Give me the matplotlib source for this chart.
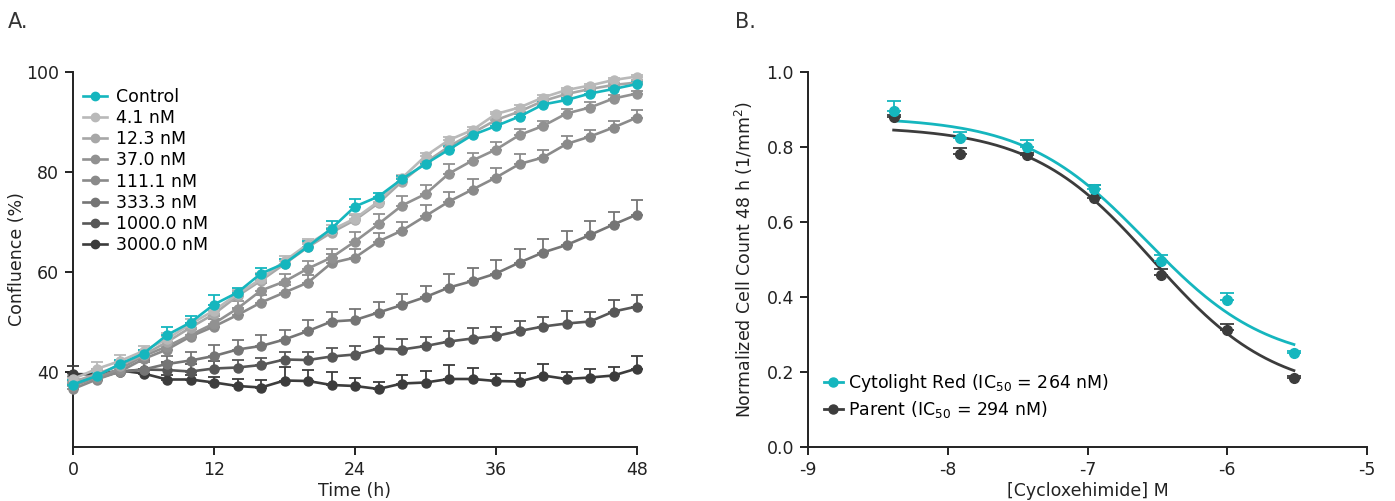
import numpy as np
import matplotlib
matplotlib.use('Agg')
import matplotlib.pyplot as plt

plt.rcParams['font.family'] = ['DejaVu Sans']
plt.rcParams['mathtext.fontset'] = 'dejavusans'
plt.rcParams['axes.unicode_minus'] = False

# ---- panel A: confluence over time ----
time_h = np.arange(0, 49, 2)

labels_a = ['Control', '4.1 nM', '12.3 nM', '37.0 nM', '111.1 nM',
            '333.3 nM', '1000.0 nM', '3000.0 nM']
colors_a = ['#15b6be', '#b9b9b9', '#a7a7a7', '#919191', '#8a8a8a',
            '#757575', '#575757', '#3c3c3c']

control = [37.5, 39.2, 41.6, 43.7, 47.4, 49.9, 53.5, 55.9, 59.7, 61.7, 65.1, 68.7,
           73.1, 75.1, 78.6, 81.6, 84.5, 87.4, 89.2, 91.1, 93.5, 94.4, 95.7, 96.6, 97.6]
nm_4_1 = [38.6, 40.6, 42.2, 44.2, 46.6, 49.6, 52.3, 55.6, 58.6, 62.2, 65.6, 68.4,
          70.7, 74.1, 78.8, 83.2, 86.4, 88.4, 91.6, 92.9, 94.9, 96.4, 97.3, 98.4, 99.1]
nm_12_3 = [38.0, 39.6, 41.3, 43.4, 46.0, 48.9, 51.6, 55.2, 58.3, 61.6, 65.0, 67.9,
           70.4, 73.8, 78.1, 81.9, 85.1, 87.8, 90.4, 92.1, 94.2, 95.6, 96.6, 97.4, 97.9]
nm_37 = [37.2, 38.9, 40.6, 43.2, 45.1, 47.4, 49.7, 52.7, 56.3, 58.1, 60.7, 62.9,
         66.1, 69.6, 73.3, 75.6, 79.7, 82.3, 84.5, 87.4, 89.2, 91.7, 92.9, 94.7, 95.7]
nm_111 = [36.6, 38.5, 40.1, 42.6, 44.5, 47.1, 49.1, 51.4, 53.9, 55.9, 57.9, 61.8,
          62.9, 66.1, 68.3, 71.2, 74.1, 76.5, 78.9, 81.6, 82.9, 85.6, 87.1, 88.9, 90.9]
nm_333 = [38.0, 39.0, 40.0, 40.5, 41.6, 42.3, 43.2, 44.5, 45.2, 46.5, 48.2, 50.1,
          50.4, 51.9, 53.4, 55.0, 56.9, 58.2, 59.7, 61.9, 63.9, 65.4, 67.4, 69.5, 71.5]
nm_1000 = [38.3, 38.7, 40.1, 40.5, 40.4, 40.1, 40.7, 40.9, 41.4, 42.5, 42.4, 43.1,
           43.5, 44.7, 44.5, 45.2, 46.1, 46.7, 47.2, 48.2, 49.1, 49.7, 50.1, 52.1, 53.1]
nm_3000 = [39.6, 39.5, 40.3, 39.7, 38.5, 38.5, 37.9, 37.2, 36.9, 38.3, 38.2, 37.4,
           37.2, 36.6, 37.7, 37.9, 38.6, 38.6, 38.2, 38.1, 39.3, 38.6, 38.9, 39.3, 40.7]

err_control = [1.0, 0.8, 0.8, 0.8, 1.7, 1.3, 2.0, 1.0, 1.2, 1.0, 1.2, 1.5,
               1.5, 0.8, 0.7, 0.6, 0.8, 0.6, 0.6, 0.6, 0.5, 0.4, 0.4, 0.4, 0.4]
err_4_1 = [0.8, 1.5, 1.2, 1.0, 1.2, 1.0, 1.2, 1.0, 1.2, 1.0, 1.0, 1.0,
           1.0, 0.8, 0.7, 0.6, 0.6, 0.6, 0.5, 0.5, 0.4, 0.4, 0.4, 0.4, 0.4]
err_12_3 = [0.8, 1.0, 1.0, 1.0, 1.2, 1.0, 1.2, 1.0, 1.2, 1.0, 1.0, 1.0,
            1.0, 0.8, 0.7, 0.6, 0.6, 0.6, 0.5, 0.5, 0.4, 0.4, 0.4, 0.4, 0.4]
err_37 = [1.0, 1.0, 1.0, 1.2, 1.5, 1.5, 1.5, 1.5, 1.5, 1.6, 1.6, 1.8,
          2.0, 2.0, 2.0, 1.8, 2.0, 1.5, 1.5, 1.3, 1.0, 1.0, 1.1, 0.7, 0.5]
err_111 = [1.0, 1.0, 1.0, 1.2, 1.5, 1.5, 1.5, 1.5, 1.5, 1.6, 1.6, 1.8,
           1.8, 1.8, 1.8, 2.2, 2.0, 2.2, 2.0, 2.0, 1.5, 1.6, 1.3, 1.3, 1.5]
err_333 = [1.2, 1.2, 1.4, 1.5, 1.6, 1.8, 2.2, 2.0, 2.3, 2.0, 2.2, 1.9,
           2.2, 2.2, 2.3, 2.3, 2.7, 2.7, 2.7, 2.7, 2.7, 2.7, 2.7, 2.6, 3.0]
err_1000 = [1.2, 1.2, 1.3, 1.9, 1.7, 1.6, 1.6, 1.6, 1.5, 1.6, 1.7, 1.8,
            1.7, 2.3, 2.1, 1.9, 2.2, 2.1, 1.9, 2.1, 2.0, 2.5, 2.0, 2.3, 2.3]
err_3000 = [1.6, 1.2, 1.0, 1.0, 1.0, 1.0, 1.2, 1.5, 1.5, 2.7, 2.2, 2.6,
            1.7, 1.5, 1.8, 2.3, 2.9, 2.3, 1.5, 1.7, 2.3, 1.5, 1.7, 1.7, 2.5]

series_a = [control, nm_4_1, nm_12_3, nm_37, nm_111, nm_333, nm_1000, nm_3000]
errors_a = [err_control, err_4_1, err_12_3, err_37, err_111, err_333, err_1000, err_3000]

# ---- panel B: dose response ----
log_conc = [-8.387, -7.910, -7.432, -6.954, -6.477, -6.000, -5.523]
cytolight = [0.896, 0.825, 0.801, 0.689, 0.495, 0.392, 0.250]
cytolight_err = [0.027, 0.015, 0.019, 0.010, 0.018, 0.019, 0.005]
parent = [0.881, 0.781, 0.779, 0.663, 0.459, 0.312, 0.185]
parent_err = [0.005, 0.016, 0.006, 0.036, 0.016, 0.015, 0.004]

# 4-parameter logistic fits: top, bottom, logIC50, hill
fit_cytolight = (0.88, 0.22, np.log10(264e-9), 1.0)
fit_parent = (0.855, 0.14, np.log10(294e-9), 1.0)

teal = '#15b6be'
dark = '#3c3c3c'
axis_col = '#222222'
txt_col = '#222222'
FS = 12.5


def logistic(x, top, bottom, logic50, hill):
    return bottom + (top - bottom) / (1 + 10 ** ((x - logic50) * hill))


def style_axes(ax):
    ax.spines['top'].set_visible(False)
    ax.spines['right'].set_visible(False)
    for s in ['left', 'bottom']:
        ax.spines[s].set_linewidth(1.4)
        ax.spines[s].set_color(axis_col)
    ax.tick_params(direction='out', length=6, width=1.4, color=axis_col,
                   labelsize=FS, labelcolor=txt_col, pad=4)


fig = plt.figure(figsize=(13.95, 5.01), dpi=100)

# panel A
ax1 = fig.add_axes([73 / 1395, 1 - 447 / 501, 564 / 1395, 375 / 501])
for vals, errs, col in zip(series_a[::-1], errors_a[::-1], colors_a[::-1]):
    ax1.errorbar(time_h, vals, yerr=[np.zeros(len(errs)), errs], color=col,
                 lw=1.9, marker='o', ms=6.5, capsize=4, elinewidth=1.3,
                 capthick=1.3, clip_on=False, zorder=3)
ax1.set_xlim(0, 48)
ax1.set_ylim(25, 100)
ax1.set_xticks([0, 12, 24, 36, 48])
ax1.set_yticks([40, 60, 80, 100])
ax1.set_xlabel('Time (h)', fontsize=FS, labelpad=2, color=txt_col)
ax1.set_ylabel('Confluence (%)', fontsize=FS, labelpad=0, color=txt_col)
style_axes(ax1)
handles_a = [plt.Line2D([], [], color=c, lw=1.9, marker='o', ms=6) for c in colors_a]
ax1.legend(handles_a, labels_a, loc='upper left', bbox_to_anchor=(0.0, 0.985),
           frameon=False, fontsize=FS, handlelength=1.35, handletextpad=0.55,
           labelspacing=0.18, borderaxespad=0.2)
fig.text(8 / 1395, 1 - 22 / 501, 'A.', fontsize=15, va='center', ha='left',
         color='#333333')

# panel B
ax2 = fig.add_axes([808 / 1395, 1 - 447 / 501, 559 / 1395, 375 / 501])
xs = np.linspace(log_conc[0], log_conc[-1], 200)
ax2.plot(xs, logistic(xs, *fit_cytolight), color=teal, lw=2, zorder=2)
ax2.plot(xs, logistic(xs, *fit_parent), color=dark, lw=2, zorder=2)
ax2.errorbar(log_conc, parent, yerr=[np.zeros(7), parent_err], color=dark,
             fmt='o', ms=7, capsize=5, elinewidth=1.3, capthick=1.3, zorder=3)
ax2.errorbar(log_conc, cytolight, yerr=[np.zeros(7), cytolight_err], color=teal,
             fmt='o', ms=7, capsize=5, elinewidth=1.3, capthick=1.3, zorder=4)
hc = plt.Line2D([], [], color=teal, lw=2, marker='o', ms=6.5)
hp = plt.Line2D([], [], color=dark, lw=2, marker='o', ms=6.5)
ax2.legend([hc, hp], ['Cytolight Red (IC$_{50}$ = 264 nM)', 'Parent (IC$_{50}$ = 294 nM)'],
           loc='lower left', bbox_to_anchor=(0.0, 0.03), frameon=False, fontsize=FS,
           handlelength=1.1, handletextpad=0.3, labelspacing=0.3)
ax2.set_xlim(-9, -5)
ax2.set_ylim(0, 1.0)
ax2.set_xticks([-9, -8, -7, -6, -5])
ax2.set_yticks([0.0, 0.2, 0.4, 0.6, 0.8, 1.0])
ax2.set_yticklabels(['0.0', '0.2', '0.4', '0.6', '0.8', '1.0'])
ax2.set_xlabel('[Cycloxehimide] M', fontsize=FS, labelpad=2, color=txt_col)
ax2.set_ylabel('Normalized Cell Count 48 h (1/mm$^{2}$)', fontsize=FS, labelpad=8,
               color=txt_col)
style_axes(ax2)
fig.text(735 / 1395, 1 - 22 / 501, 'B.', fontsize=15, va='center', ha='left',
         color='#333333')

plt.savefig('out.png', dpi=100)
